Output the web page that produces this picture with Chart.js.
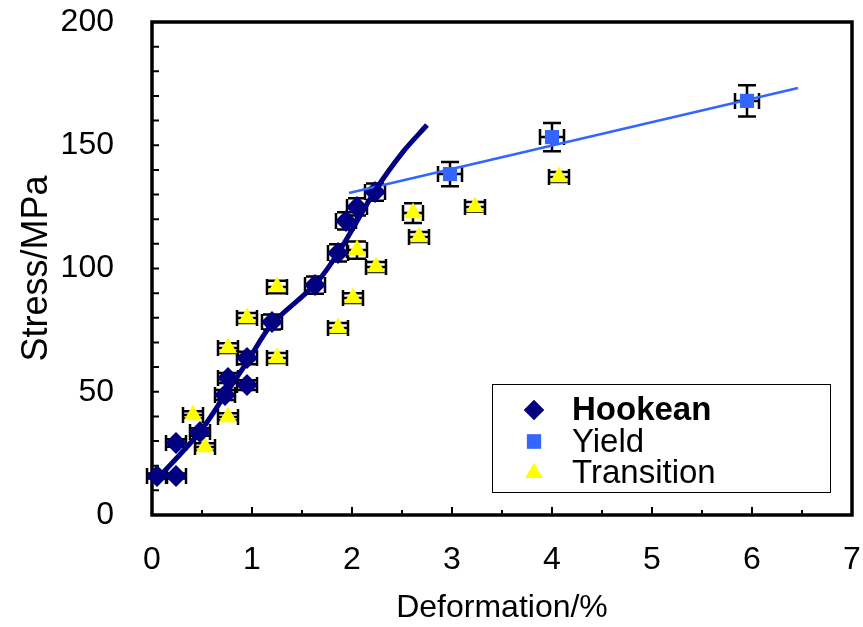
<!DOCTYPE html>
<html>
<head>
<meta charset="utf-8">
<script src="https://cdn.jsdelivr.net/npm/chart.js@4.4.0/dist/chart.umd.min.js"></script>
<style>
  html, body { margin: 0; padding: 0; background: #fff; }
  #wrap { width: 863px; height: 627px; }
</style>
</head>
<body>
<div id="wrap"><canvas id="myChart"></canvas></div>
<script>
// measured points
const hookeanX = [0.05, 0.24, 0.24, 0.48, 0.73, 0.76, 0.95, 0.95, 1.20, 1.63, 1.86, 1.94, 2.05, 2.23];
const hookeanY = [15.8, 15.8, 29.2, 33.7, 48.7, 55.6, 52.7, 63.7, 78.3, 93.3, 106.3, 119.3, 125.0, 131.0];
const hookeanXErr = [0.1, 0.1, 0.1, 0.1, 0.1, 0.1, 0.1, 0.1, 0.1, 0.1, 0.1, 0.1, 0.1, 0.1];
const hookeanYErr = [1, 1, 1.5, 1.5, 2, 2, 2, 2.5, 3, 3.5, 3.5, 3.5, 3.5, 3.5];

const yieldX = [2.98, 4.00, 5.95];
const yieldY = [138.3, 153.3, 168.0];
const yieldXErr = [0.12, 0.12, 0.12];
const yieldYErr = [4.9, 5.7, 6.3];

const transX = [0.41, 0.53, 0.76, 0.76, 0.95, 1.25, 1.25, 1.86, 2.01, 2.05, 2.24, 2.61, 2.67, 3.23, 4.07];
const transY = [40.6, 27.6, 39.8, 67.7, 79.9, 92.5, 63.7, 75.9, 88.0, 107.5, 100.6, 122.5, 112.8, 125.0, 137.1];
const transXErr = [0.1, 0.1, 0.1, 0.1, 0.1, 0.1, 0.1, 0.1, 0.1, 0.1, 0.1, 0.1, 0.1, 0.1, 0.1];
const transYErr = [1.5, 1.5, 1.5, 2, 2, 2.5, 2, 2, 2, 3.5, 2, 4, 2, 2, 2];

// fitted curves
const hookeanFitX = [0.05, 0.48, 0.73, 0.95, 1.20, 1.63, 1.88, 2.23, 2.51, 2.75];
const hookeanFitY = [14.5, 33.7, 48.7, 62.0, 77.5, 93.5, 107.5, 131.5, 147.3, 158.2];
const yieldFitX = [1.97, 6.46];
const yieldFitY = [130.6, 173.2];

const xTicks = [0, 1, 2, 3, 4, 5, 6, 7];
const yTicks = [0, 50, 100, 150, 200];

const NAVY = '#000080', BLUE = '#3366FF', YELLOW = '#FFFF00';
const FONT = 'Liberation Sans, Arial, sans-serif';

const pts = (xs, ys) => xs.map((v, i) => ({ x: v, y: ys[i] }));

const errSets = [
  { x: hookeanX, y: hookeanY, xe: hookeanXErr, ye: hookeanYErr },
  { x: yieldX, y: yieldY, xe: yieldXErr, ye: yieldYErr },
  { x: transX, y: transY, xe: transXErr, ye: transYErr }
];

const errorBars = {
  id: 'errorBars',
  beforeDatasetsDraw(chart) {
    const { ctx, scales: { x, y } } = chart;
    ctx.save();
    ctx.strokeStyle = '#000';
    ctx.lineWidth = 2.5;
    errSets.forEach(s => {
      s.x.forEach((xv, i) => {
        const px = x.getPixelForValue(xv), py = y.getPixelForValue(s.y[i]);
        const x1 = x.getPixelForValue(xv - s.xe[i]), x2 = x.getPixelForValue(xv + s.xe[i]);
        const y1 = y.getPixelForValue(s.y[i] - s.ye[i]), y2 = y.getPixelForValue(s.y[i] + s.ye[i]);
        ctx.beginPath();
        ctx.moveTo(x1, py); ctx.lineTo(x2, py);
        ctx.moveTo(x1, py - 8); ctx.lineTo(x1, py + 8);
        ctx.moveTo(x2, py - 8); ctx.lineTo(x2, py + 8);
        ctx.moveTo(px, y1); ctx.lineTo(px, y2);
        ctx.moveTo(px - 9, y1); ctx.lineTo(px + 9, y1);
        ctx.moveTo(px - 9, y2); ctx.lineTo(px + 9, y2);
        ctx.stroke();
      });
    });
    ctx.restore();
  }
};

const frame = {
  id: 'frame',
  beforeDatasetsDraw(chart) {
    const { ctx, chartArea: a, scales: { x, y } } = chart;
    ctx.save();
    ctx.strokeStyle = '#000';
    ctx.lineWidth = 2;
    ctx.beginPath();
    for (let v = 0.5; v < 7; v += 0.5) {
      const px = x.getPixelForValue(v);
      const len = Number.isInteger(v) ? 8 : 5;
      ctx.moveTo(px, a.bottom); ctx.lineTo(px, a.bottom - len);
    }
    for (let v = 10; v < 200; v += 10) {
      const py = y.getPixelForValue(v);
      ctx.moveTo(a.left, py); ctx.lineTo(a.left + 7, py);
    }
    ctx.stroke();
    ctx.lineWidth = 3.5;
    ctx.strokeRect(a.left, a.top, a.right - a.left, a.bottom - a.top);
    ctx.restore();
  }
};

const legendBox = {
  id: 'legendBox',
  afterDraw(chart) {
    const { ctx, chartArea: a } = chart;
    const w = 338, h = 108;
    const bx = a.right - 22 - w, by = a.bottom - 23 - h;
    ctx.save();
    ctx.fillStyle = '#fff';
    ctx.fillRect(bx, by, w, h);
    ctx.strokeStyle = '#000';
    ctx.lineWidth = 1;
    ctx.strokeRect(bx + 0.5, by + 0.5, w, h);
    const items = chart.data.datasets.filter(d => d.inLegend);
    items.forEach((d, i) => {
      const cy = by + 26 + i * 31.5;
      ctx.fillStyle = d.backgroundColor;
      Chart.helpers.drawPoint(ctx, { pointStyle: d.pointStyle, radius: d.legendRadius, rotation: 0, borderWidth: 0 }, bx + 42, cy);
      ctx.fill();
      ctx.fillStyle = '#000';
      ctx.font = (d.legendBold ? 'bold ' : '') + '33px ' + FONT;
      ctx.textBaseline = 'middle';
      ctx.textAlign = 'left';
      ctx.fillText(d.label, bx + 80, cy + 1);
    });
    ctx.restore();
  }
};

new Chart(document.getElementById('myChart'), {
  type: 'scatter',
  data: {
    datasets: [
      {
        label: 'Hookean fit', data: pts(hookeanFitX, hookeanFitY), showLine: true,
        borderColor: NAVY, borderWidth: 5, pointRadius: 0, tension: 0.3, clip: false
      },
      {
        label: 'Yield fit', data: pts(yieldFitX, yieldFitY), showLine: true,
        borderColor: BLUE, borderWidth: 2.5, pointRadius: 0, clip: false
      },
      {
        label: 'Hookean', data: pts(hookeanX, hookeanY), inLegend: true, legendBold: true, legendRadius: 10,
        pointStyle: 'rectRot', pointRadius: 11, backgroundColor: NAVY, borderWidth: 0, clip: false
      },
      {
        label: 'Yield', data: pts(yieldX, yieldY), inLegend: true, legendRadius: 10,
        pointStyle: 'rect', pointRadius: 10, backgroundColor: BLUE, borderWidth: 0, clip: false
      },
      {
        label: 'Transition', data: pts(transX, transY), inLegend: true, legendRadius: 10,
        pointStyle: 'triangle', pointRadius: 10.5, backgroundColor: YELLOW, borderWidth: 0, clip: false
      }
    ]
  },
  options: {
    responsive: true,
    maintainAspectRatio: false,
    animation: false,
    layout: { padding: { top: 22, right: 8, left: 0, bottom: 0 } },
    plugins: { legend: { display: false }, tooltip: { enabled: false } },
    scales: {
      x: {
        type: 'linear', min: 0, max: 7,
        afterBuildTicks: s => { s.ticks = xTicks.map(v => ({ value: v })); },
        afterFit: s => { s.height = 112; s.paddingLeft = 0; s.paddingRight = 0; },
        grid: { display: false }, border: { display: false },
        ticks: { color: '#000', font: { family: FONT, size: 32 }, padding: 18 },
        title: { display: true, text: 'Deformation/%', color: '#000', font: { family: FONT, size: 32 }, padding: { top: 0, bottom: 0 } }
      },
      y: {
        type: 'linear', min: 0, max: 200,
        afterBuildTicks: s => { s.ticks = yTicks.map(v => ({ value: v })); },
        afterFit: s => { s.width = 152; s.paddingTop = 0; s.paddingBottom = 0; },
        grid: { display: false }, border: { display: false },
        ticks: { color: '#000', font: { family: FONT, size: 32 }, padding: 30 },
        title: { display: true, text: 'Stress/MPa', color: '#000', font: { family: FONT, size: 36 }, padding: { top: 15, bottom: 0 } }
      }
    }
  },
  plugins: [frame, errorBars, legendBox]
});
</script>
</body>
</html>
